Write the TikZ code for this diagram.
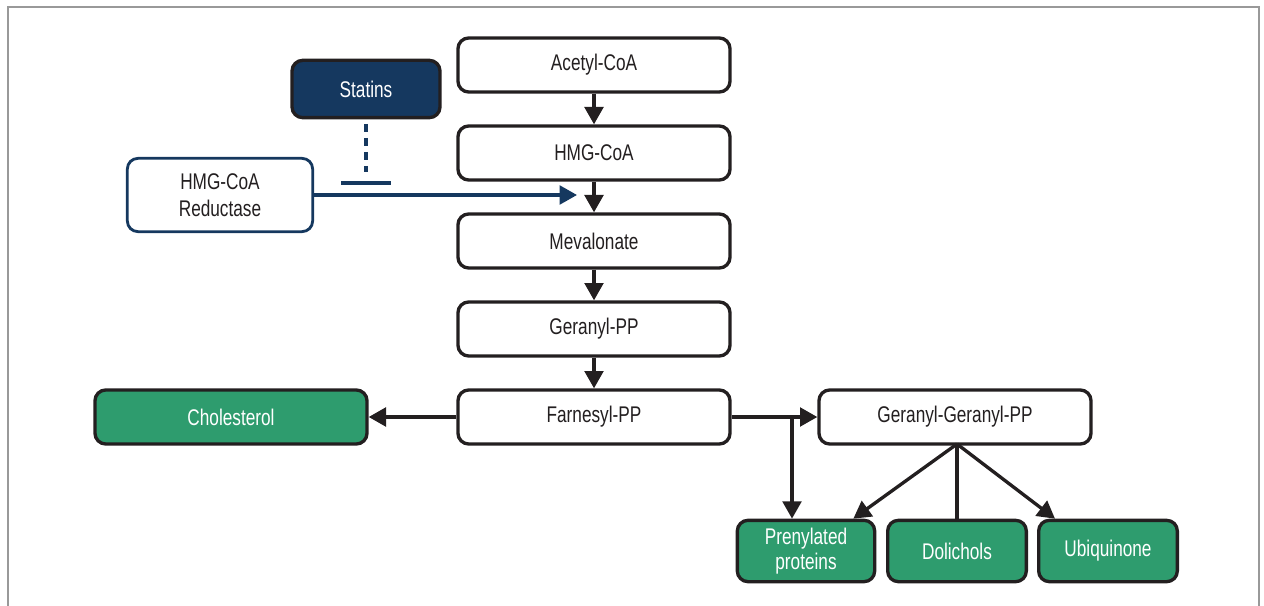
\documentclass[tikz,border=0pt]{standalone}
\usepackage{fontspec}
\setmainfont{Liberation Sans}[FakeStretch=0.76]
\usetikzlibrary{arrows.meta,calc}
\definecolor{navy}{HTML}{15385F}
\definecolor{leaf}{HTML}{2E9C6E}
\definecolor{ink}{HTML}{231F20}
\tikzset{
  box/.style={draw=ink, line width=2.5pt, rounded corners=8pt, fill=white,
    minimum width=204pt, minimum height=40.5pt, inner sep=0pt, align=center,
    font=\fontsize{17pt}{19pt}\selectfont, text=ink},
  greenbox/.style={box, fill=leaf, text=white},
  tip/.tip={Triangle[length=13pt,width=14pt]},
  flow/.style={draw=ink, line width=2.5pt, -tip},
  plain/.style={draw=ink, line width=2.5pt},
  inhib/.style={draw=navy, line width=2.4pt},
}
\begin{document}
\begin{tikzpicture}[x=0.75pt,y=-0.75pt]
\useasboundingbox (0,0) rectangle (1264,606);
\draw[gray!80, line width=1.2pt] (8,606) -- (8,7) -- (1259,7) -- (1259,606);

\node[box] (ac) at (594,65) {Acetyl-CoA};
\node[box] (hmg) at (594,153) {HMG-CoA};
\node[box] (mev) at (594,241) {Mevalonate};
\node[box] (ger) at (594,329) {Geranyl-PP};
\node[box] (far) at (594,417) {Farnesyl-PP};
\node[box, fill=navy, text=white, minimum width=111pt, minimum height=43pt] (stat) at (366,89) {Statins};
\node[box, draw=navy, line width=2.1pt, minimum width=139pt, minimum height=55pt,
  font=\fontsize{17pt}{20pt}\selectfont] (red) at (220,195) {HMG-CoA\\Reductase};
\node[greenbox] (chol) at (231,417) {Cholesterol};
\node[box] (gg) at (955,417) {Geranyl-Geranyl-PP};
\node[greenbox, minimum width=103pt, minimum height=46pt,
  font=\fontsize{17pt}{19pt}\selectfont] (pren) at (806,551) {Prenylated\\proteins};
\node[greenbox, minimum width=104pt, minimum height=46pt] (dol) at (957,551) {Dolichols};
\node[greenbox, minimum width=104pt, minimum height=46pt] (ubi) at (1108,551) {Ubiquinone};

\draw[flow] (ac) -- (hmg);
\draw[flow] (hmg) -- (mev);
\draw[flow] (mev) -- (ger);
\draw[flow] (ger) -- (far);
\draw[flow] (far) -- (chol);

\coordinate (jn) at (792,417);
\draw[flow] (far.east) -- (gg.west);
\draw[flow] (jn) -- (jn |- pren.north);

\coordinate (gsrc) at (957,444);
\draw[flow] (gsrc) -- ($(pren.north east)+(-23,0)$);
\draw[plain] (gsrc) -- (dol.north);
\draw[flow] (gsrc) -- ($(ubi.north west)+(18,0)$);

\coordinate (tipb) at (577,195);
\draw[inhib, -{Triangle[length=13pt,width=14pt]}] (red.east) -- (tipb);
\coordinate (dtop) at (366,124);
\coordinate (dbot) at (366,172);
\draw[inhib, dash pattern=on 6pt off 4.5pt] (dtop) -- (dbot);
\coordinate (barl) at (341,183);
\coordinate (barr) at (391,183);
\draw[inhib] (barl) -- (barr);
\end{tikzpicture}
\end{document}
